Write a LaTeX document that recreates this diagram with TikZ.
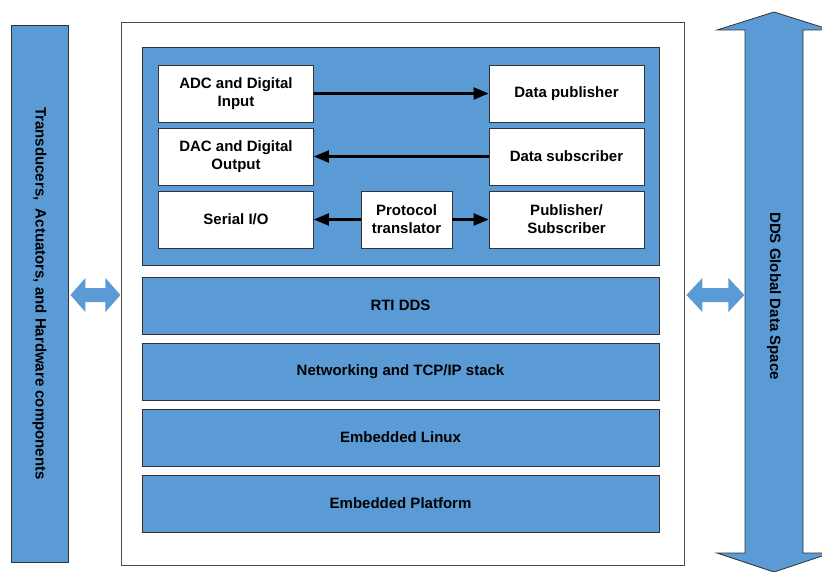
\documentclass[tikz,border=0pt]{standalone}
\usepackage{fontspec}
\setmainfont{Liberation Sans}
\usetikzlibrary{arrows.meta,positioning}
\definecolor{ddsblue}{RGB}{91,155,213}
\tikzset{
  panel/.style={draw=black!80, fill=ddsblue, line width=0.8pt},
  wbox/.style={draw=black!80, fill=white, line width=0.8pt, align=center,
    minimum width=155pt, minimum height=57pt, inner sep=0pt},
  layer/.style={panel, minimum width=517pt, minimum height=57pt},
  flow/.style={line width=2.2pt, -{Triangle[length=15pt,width=12pt]}}
}

\begin{document}
\begin{tikzpicture}[x=1pt, y=-1pt, font=\fontsize{15}{18}\selectfont\bfseries]
    \clip (0,0) rectangle (822,572);
    % left bar
    \node[panel, minimum width=57pt, minimum height=537pt] (tbar) at (39.5,293.5) {};
    \node[rotate=-90] (tlabel) at (tbar.center) {Transducers,\ \ Actuators, and Hardware components};
    % node stack
    \node[draw=black!70, fill=white, line width=0.8pt, minimum width=563pt, minimum height=543pt] (stack) at (402.5,293.5) {};
    \node[panel, minimum width=517pt, minimum height=218pt] (app) at (400.5,156) {};
    \node[wbox] (adc) at (236,93.5) {ADC and Digital\\Input};
    \node[wbox] (pub) at (566.5,93.5) {Data publisher};
    \node[wbox] (dac) at (236,156.5) {DAC and Digital\\Output};
    \node[wbox] (sub) at (566.5,156.5) {Data subscriber};
    \node[wbox] (serial) at (236,219.5) {Serial I/O};
    \node[wbox, minimum width=91pt] (proto) at (406.5,219.5) {Protocol\\translator};
    \node[wbox] (pubsub) at (566.5,219.5) {Publisher/\\Subscriber};
    \draw[flow] (adc) -- (pub);
    \draw[flow] (sub) -- (dac);
    \draw[flow] (proto) -- (serial);
    \draw[flow] (proto) -- (pubsub);
    % layers
    \node[layer] (rti) at (400.5,305.5) {RTI DDS};
    \node[layer] (net) at (400.5,371.5) {Networking and TCP/IP stack};
    \node[layer] (linux) at (400.5,437.5) {Embedded Linux};
    \node[layer] (platform) at (400.5,503.5) {Embedded Platform};
    % global data space
    \draw[panel] (745,30) -- (717,30) -- (774,12) -- (831,30) -- (803,30)
        -- (803,553) -- (831,553) -- (774,572) -- (717,553) -- (745,553) -- cycle;
    \node[rotate=-90] (gds) at (774,296) {DDS Global Data Space};
    % fat arrows
    \fill[ddsblue] ([xshift=2pt]tbar.east |- 0,295) -- ++(15,-17) -- ++(0,10) -- ++(20,0)
        -- ++(0,-10) -- ++(15,17) -- ++(-15,17) -- ++(0,-10) -- ++(-20,0) -- ++(0,10) -- cycle;
    \fill[ddsblue] ([xshift=2pt]stack.east |- 0,295) -- ++(16,-17) -- ++(0,10) -- ++(26,0)
        -- ++(0,-10) -- ++(16,17) -- ++(-16,17) -- ++(0,-10) -- ++(-26,0) -- ++(0,10) -- cycle;
\end{tikzpicture}
\end{document}
